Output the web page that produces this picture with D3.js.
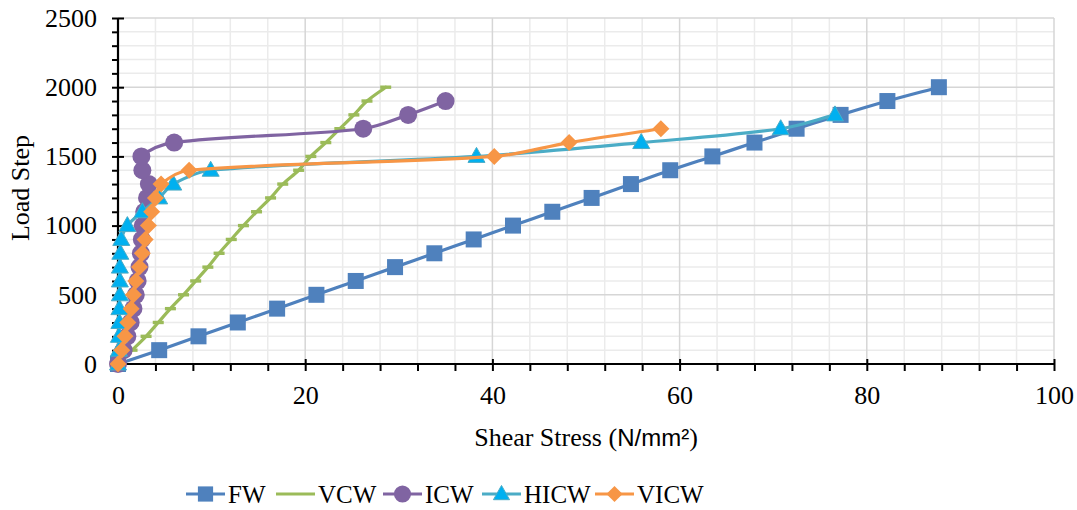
<!DOCTYPE html>
<html>
<head>
<meta charset="utf-8">
<script src="https://cdn.jsdelivr.net/npm/d3@7/dist/d3.min.js"></script>
<style>
  html, body { margin: 0; padding: 0; background: #fff; }
  svg { display: block; }
  text { font-family: "Liberation Serif", "Times New Roman", serif; fill: #000; }
</style>
</head>
<body>
<svg id="chart" width="1077" height="510"></svg>
<script>
// Load steps and shear stress (N/mm²) per wall type
const loadSteps = [0, 100, 200, 300, 400, 500, 600, 700, 800, 900, 1000,
                   1100, 1200, 1300, 1400, 1500, 1600, 1700, 1800, 1900, 2000];
const fw   = [0, 4.4, 8.6, 12.8, 17.0, 21.2, 25.4, 29.6, 33.8, 38.0, 42.2,
              46.4, 50.6, 54.8, 59.0, 63.5, 68.0, 72.5, 77.2, 82.2, 87.7];
const vcw  = [0, 1.5, 3.0, 4.3, 5.6, 7.0, 8.3, 9.6, 10.8, 12.1, 13.4,
              14.8, 16.3, 17.6, 19.3, 20.6, 22.2, 23.7, 25.2, 26.6, 28.6];
const icw  = [0, 0.6, 1.0, 1.35, 1.65, 1.9, 2.1, 2.3, 2.45, 2.55, 2.65,
              2.8, 3.1, 3.3, 2.6, 2.5, 6.0, 26.2, 31.0, 35.0];
const hicw = [0, 0.1, 0.1, 0.15, 0.15, 0.2, 0.2, 0.2, 0.25, 0.35, 1.0,
              2.6, 4.4, 5.9, 9.9, 38.3, 55.9, 70.8, 76.6];
const vicw = [0, 0.4, 0.75, 1.05, 1.4, 1.65, 1.9, 2.3, 2.6, 2.9, 3.25,
              3.6, 4.0, 4.6, 7.6, 40.2, 48.2, 58.0];

const seriesNames = ["FW", "VCW", "ICW", "HICW", "VICW"];
const xTicks = [0, 20, 40, 60, 80, 100];
const yTicks = [0, 500, 1000, 1500, 2000, 2500];

const series = [
  { name: "FW",   values: fw,   line: "#4F81BD", fill: "#4F81BD", stroke: "#4F81BD", marker: "square" },
  { name: "VCW",  values: vcw,  line: "#9BBB59", fill: "#9BBB59", stroke: "#9BBB59", marker: "dash" },
  { name: "ICW",  values: icw,  line: "#8064A2", fill: "#8064A2", stroke: "#8064A2", marker: "circle" },
  { name: "HICW", values: hicw, line: "#4BACC6", fill: "#00B0F0", stroke: "#4BACC6", marker: "triangle" },
  { name: "VICW", values: vicw, line: "#F79646", fill: "#F79646", stroke: "#F79646", marker: "diamond" }
];

const serif = "'Liberation Serif', 'Times New Roman', serif";
const svg = d3.select("#chart");
const x = d3.scaleLinear().domain([0, 100]).range([118, 1054]);
const y = d3.scaleLinear().domain([0, 2500]).range([364, 18]);

// gridlines: minor every 4 / 100, major every 20 / 500
const grid = svg.append("g");
grid.selectAll("line.vmin").data(d3.range(4, 101, 4).filter(v => v % 20 !== 0))
  .join("line").attr("x1", d => x(d)).attr("x2", d => x(d))
  .attr("y1", y(0)).attr("y2", y(2500)).attr("stroke", "#EBEBEB").attr("stroke-width", 1.5);
grid.selectAll("line.hmin").data(d3.range(100, 2501, 100).filter(v => v % 500 !== 0))
  .join("line").attr("x1", x(0)).attr("x2", x(100))
  .attr("y1", d => y(d)).attr("y2", d => y(d)).attr("stroke", "#EBEBEB").attr("stroke-width", 1.5);
grid.selectAll("line.vmaj").data(xTicks.slice(1))
  .join("line").attr("x1", d => x(d)).attr("x2", d => x(d))
  .attr("y1", y(0)).attr("y2", y(2500)).attr("stroke", "#D6D6D6").attr("stroke-width", 1.5);
grid.selectAll("line.hmaj").data(yTicks.slice(1))
  .join("line").attr("x1", x(0)).attr("x2", x(100))
  .attr("y1", d => y(d)).attr("y2", d => y(d)).attr("stroke", "#D6D6D6").attr("stroke-width", 1.5);

// axes
const fontSize = "26px";
const yMinor = svg.append("g").attr("transform", `translate(${x(0)},0)`)
  .call(d3.axisLeft(y).tickValues(d3.range(100, 2500, 100).filter(v => v % 500 !== 0))
        .tickSize(6).tickFormat(""));
const yAxis = svg.append("g").attr("transform", `translate(${x(0)},0)`)
  .call(d3.axisLeft(y).tickValues(yTicks).tickSize(6).tickPadding(15).tickFormat(d3.format("d")));
yAxis.selectAll(".tick line").attr("x1", 6);
const xMinor = svg.append("g").attr("transform", `translate(0,${y(0)})`)
  .call(d3.axisBottom(x).tickValues(d3.range(4, 100, 4).filter(v => v % 20 !== 0))
        .tickSize(7).tickFormat(""));
const xAxis = svg.append("g").attr("transform", `translate(0,${y(0)})`)
  .call(d3.axisBottom(x).tickValues(xTicks).tickSize(7).tickFormat(d3.format("d")));
xAxis.selectAll(".tick line").attr("y1", -5);
xAxis.selectAll(".tick text").attr("y", 40).attr("dy", 0);

[yMinor, yAxis, xMinor, xAxis].forEach(g => {
  g.attr("font-family", null).attr("font-size", null);
  g.select(".domain").remove();
  g.selectAll(".tick line").attr("stroke", "#000").attr("stroke-width", 2);
  g.selectAll(".tick text").style("font-family", serif)
    .style("font-size", fontSize).attr("fill", "#000");
});
svg.append("line").attr("x1", x(0)).attr("x2", x(0)).attr("y1", y(0) + 1).attr("y2", y(2500))
  .attr("stroke", "#000").attr("stroke-width", 2.2);
svg.append("line").attr("x1", x(0) - 1).attr("x2", x(100)).attr("y1", y(0)).attr("y2", y(0))
  .attr("stroke", "#000").attr("stroke-width", 2.2);

// smooth curve: Bezier segments whose control arms follow the neighbour
// direction and are scaled by each segment's own length
function smoothCurve(context) {
  let pts = [];
  return {
    areaStart() {}, areaEnd() {},
    lineStart() { pts = []; },
    point(px, py) { pts.push([+px, +py]); },
    lineEnd() {
      const n = pts.length;
      if (!n) return;
      context.moveTo(pts[0][0], pts[0][1]);
      if (n === 1) return;
      const dist = (a, b) => Math.hypot(b[0] - a[0], b[1] - a[1]);
      const tangent = i => {
        const a = pts[Math.max(0, i - 1)], b = pts[Math.min(n - 1, i + 1)];
        const l = dist(a, b) || 1;
        return [(b[0] - a[0]) / l, (b[1] - a[1]) / l];
      };
      for (let i = 0; i < n - 1; i++) {
        const p0 = pts[i], p1 = pts[i + 1];
        const d = dist(p0, p1) / 3;
        const t0 = tangent(i), t1 = tangent(i + 1);
        context.bezierCurveTo(p0[0] + t0[0] * d, p0[1] + t0[1] * d,
                              p1[0] - t1[0] * d, p1[1] - t1[1] * d,
                              p1[0], p1[1]);
      }
    }
  };
}

// marker shapes
function drawMarker(g, s, cx, cy, scale) {
  const k = scale || 1;
  if (s.marker === "square") {
    g.append("rect").attr("x", cx - 8 * k).attr("y", cy - 8 * k)
      .attr("width", 16 * k).attr("height", 16 * k).attr("fill", s.fill);
  } else if (s.marker === "circle") {
    g.append("circle").attr("cx", cx).attr("cy", cy).attr("r", 9 * k).attr("fill", s.fill);
  } else if (s.marker === "triangle") {
    const w = 8.5 * k, h = 15 * k;
    g.append("path").attr("d", `M${cx},${cy - h * 0.6}L${cx + w},${cy + h * 0.4}L${cx - w},${cy + h * 0.4}Z`)
      .attr("fill", s.fill).attr("stroke", s.stroke).attr("stroke-width", 1);
  } else if (s.marker === "diamond") {
    const r = 8.5 * k;
    g.append("path").attr("d", `M${cx},${cy - r}L${cx + r},${cy}L${cx},${cy + r}L${cx - r},${cy}Z`)
      .attr("fill", s.fill);
  } else if (s.marker === "dash") {
    g.append("rect").attr("x", cx - 5.5 * k).attr("y", cy - 1.7 * k)
      .attr("width", 11 * k).attr("height", 3.4 * k).attr("fill", s.fill);
  }
}

// series lines and markers
const lineGen = d3.line().x(d => x(d[0])).y(d => y(d[1])).curve(smoothCurve);
series.forEach(s => {
  const pts = s.values.map((v, i) => [v, loadSteps[i]]);
  const g = svg.append("g");
  g.append("path").datum(pts).attr("d", lineGen)
    .attr("fill", "none").attr("stroke", s.line).attr("stroke-width", 3.2)
    .attr("stroke-linejoin", "round").attr("stroke-linecap", "round");
  pts.forEach(p => drawMarker(g, s, x(p[0]), y(p[1])));
});

// axis titles
const xt = svg.append("text").attr("x", 586).attr("y", 446).attr("text-anchor", "middle")
  .style("font-family", serif).style("font-size", "26px");
xt.append("tspan").text("Shear Stress (");
xt.append("tspan").style("font-family", "'Liberation Sans', Arial, sans-serif").style("font-size", "24px").text("N/mm²");
xt.append("tspan").text(")");
svg.append("text").attr("transform", "translate(29,188) rotate(-90)")
  .attr("text-anchor", "middle").style("font-family", serif).style("font-size", "26px").text("Load Step");

// legend
const legendX = [186, 276, 383, 482, 595];
const legend = svg.append("g");
series.forEach((s, i) => {
  const lx = legendX[i], ly = 494;
  const g = legend.append("g");
  g.append("line").attr("x1", lx).attr("x2", lx + 39).attr("y1", ly).attr("y2", ly)
    .attr("stroke", s.line).attr("stroke-width", 3.2);
  if (s.marker !== "dash") drawMarker(g, s, lx + 19.5, ly, 0.95);
  g.append("text").attr("x", lx + 42).attr("y", ly + 9)
    .style("font-family", serif).style("font-size", "25px").text(seriesNames[i]);
});
</script>
</body>
</html>
